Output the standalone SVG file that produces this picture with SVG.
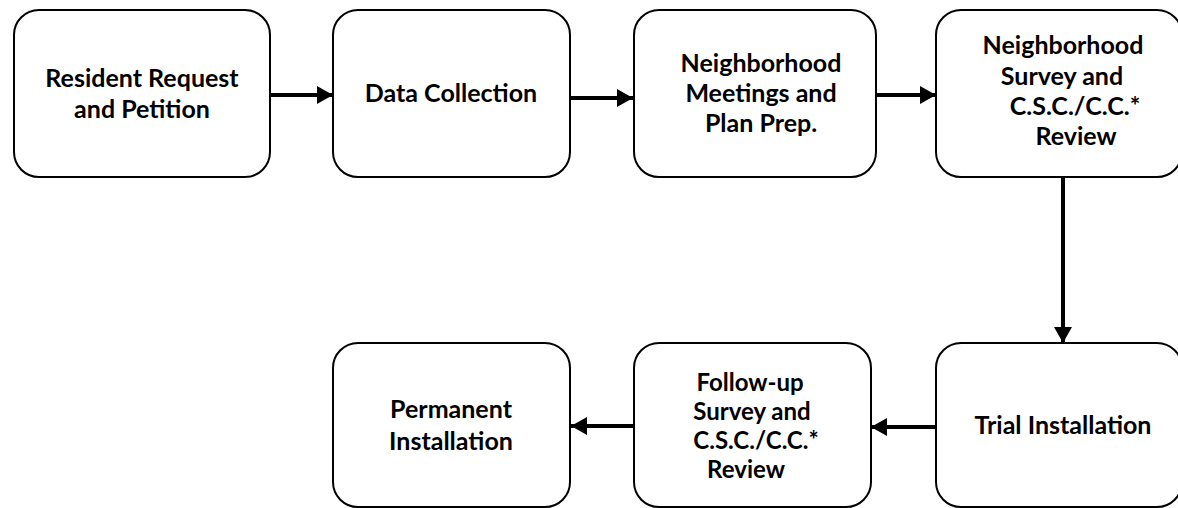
<svg xmlns="http://www.w3.org/2000/svg" width="1178" height="508" viewBox="0 0 1178 508">
<style>
.box{fill:#fff;stroke:#000;stroke-width:2}
.t{font-family:Lato,"Liberation Sans",sans-serif;font-weight:700;font-size:25px;fill:#000;text-anchor:middle}
.s{font-size:24px}
.c{stroke:#000;stroke-width:4;fill:none}
</style>
<defs>
<marker id="ah" markerWidth="4" markerHeight="4.5" refX="4" refY="2.25" orient="auto" markerUnits="strokeWidth">
<path d="M0,0 L4,2.25 L0,4.5 Z" fill="#000"/>
</marker>
</defs>
<g id="connectors">
<line class="c" x1="270" y1="95" x2="333" y2="95" marker-end="url(#ah)"/>
<line class="c" x1="570" y1="98" x2="633" y2="98" marker-end="url(#ah)"/>
<line class="c" x1="876" y1="95" x2="936" y2="95" marker-end="url(#ah)"/>
<line class="c" x1="1063" y1="177" x2="1063" y2="343" marker-end="url(#ah)"/>
<line class="c" x1="935" y1="427" x2="871" y2="427" marker-end="url(#ah)"/>
<line class="c" x1="634" y1="426" x2="571" y2="426" marker-end="url(#ah)"/>
</g>
<g id="n1">
<rect class="box" x="14" y="10" width="256" height="167" rx="25"/>
<text class="t" x="142" y="87">Resident Request</text>
<text class="t" x="142" y="118">and Petition</text>
</g>
<g id="n2">
<rect class="box" x="333" y="10" width="237" height="167" rx="25"/>
<text class="t" x="451" y="102">Data Collection</text>
</g>
<g id="n3">
<rect class="box" x="634" y="10" width="242" height="167" rx="25"/>
<text class="t" x="761" y="72">Neighborhood</text>
<text class="t" x="761" y="102">Meetings and</text>
<text class="t" x="761" y="132">Plan Prep.</text>
</g>
<g id="n4">
<rect class="box" x="936" y="10" width="246" height="167" rx="25"/>
<text class="t" x="1063" y="54">Neighborhood</text>
<text class="t" x="1062" y="85">Survey and</text>
<text class="t" x="1075" y="115">C.S.C./C.C.*</text>
<text class="t" x="1076" y="145">Review</text>
</g>
<g id="n5">
<rect class="box" x="333" y="343" width="237" height="164" rx="25"/>
<text class="t" x="451" y="418">Permanent</text>
<text class="t" x="451" y="450">Installation</text>
</g>
<g id="n6">
<rect class="box" x="634" y="343" width="237" height="164" rx="25"/>
<text class="t s" x="750" y="391">Follow-up</text>
<text class="t s" x="752" y="420">Survey and</text>
<text class="t s" x="756" y="449">C.S.C./C.C.*</text>
<text class="t s" x="746" y="478">Review</text>
</g>
<g id="n7">
<rect class="box" x="936" y="343" width="246" height="164" rx="25"/>
<text class="t" x="1063" y="434">Trial Installation</text>
</g>
</svg>
